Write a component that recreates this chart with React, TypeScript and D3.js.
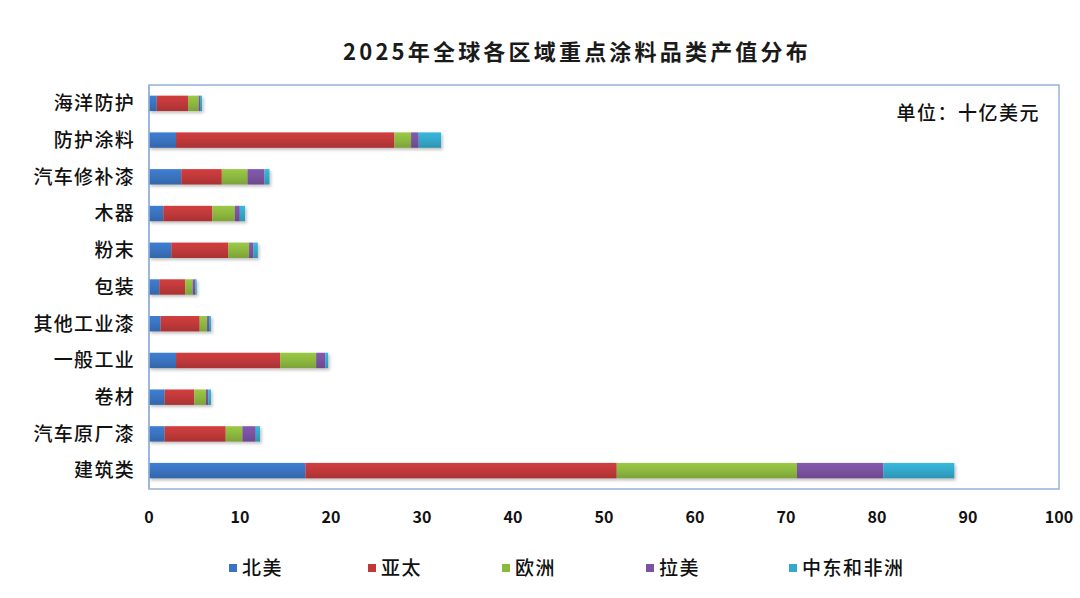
import React from "react";
import * as d3 from "d3";

const categories = ["海洋防护", "防护涂料", "汽车修补漆", "木器", "粉末", "包装", "其他工业漆", "一般工业", "卷材", "汽车原厂漆", "建筑类"];
const seriesNames = ["北美", "亚太", "欧洲", "拉美", "中东和非洲"];
const northAmerica = [0.85, 2.97, 3.55, 1.57, 2.45, 1.13, 1.28, 2.97, 1.72, 1.72, 17.2];
const asiaPacific = [3.44, 24.0, 4.45, 5.39, 6.24, 2.86, 4.29, 11.44, 3.26, 6.71, 34.2];
const europe = [1.17, 1.83, 2.82, 2.47, 2.31, 0.81, 0.81, 3.96, 1.28, 1.83, 19.8];
const latinAmerica = [0.15, 0.84, 1.87, 0.55, 0.48, 0.29, 0.22, 1.02, 0.26, 1.47, 9.5];
const meAfrica = [0.22, 2.46, 0.55, 0.58, 0.48, 0.15, 0.22, 0.3, 0.29, 0.48, 7.8];
const xTicks = [0, 10, 20, 30, 40, 50, 60, 70, 80, 90, 100];
const colors = ["#3A73C0", "#C0393A", "#8DB83F", "#7A52A0", "#33A8CA"];

const W = 1080, H = 598;
const left = 149, right = 1059, top = 85, bottom = 489;
const FONT = "'Noto Sans CJK SC', 'Noto Sans', sans-serif";

export default function App() {
  const allSeries = [northAmerica, asiaPacific, europe, latinAmerica, meAfrica];
  const rows = categories.map((c, i) => {
    const r: any = { cat: c };
    seriesNames.forEach((s, j) => (r[s] = allSeries[j][i]));
    return r;
  });
  const stacked = d3.stack<any>().keys(seriesNames)(rows);
  const x = d3.scaleLinear().domain([0, 100]).range([left, right]);
  const y = d3.scaleBand<string>().domain(categories).range([top, bottom]).paddingInner(0.58).paddingOuter(0.29);
  const legendX = [229, 368, 502, 646, 789];

  return (
    <svg width={W} height={H} style={{ position: "absolute", left: 0, top: 0, background: "#fff" }}>
      <defs>
        {colors.map((c, i) => (
          <linearGradient key={i} id={`g${i}`} x1="0" y1="0" x2="0" y2="1">
            <stop offset="0" stopColor={d3.color(c)!.brighter(0.25).toString()} />
            <stop offset="0.5" stopColor={c} />
            <stop offset="1" stopColor={d3.color(c)!.darker(0.35).toString()} />
          </linearGradient>
        ))}
        <filter id="sh" x="-5%" y="-30%" width="110%" height="180%">
          <feDropShadow dx="1.5" dy="2" stdDeviation="1.5" floodColor="#000" floodOpacity="0.25" />
        </filter>
      </defs>
      <text x={577} y={60} textAnchor="middle" fontFamily={FONT} fontWeight="bold" fontSize={22} letterSpacing={3.2} fill="#1a1a1a">
        2025年全球各区域重点涂料品类产值分布
      </text>
      <rect x={left} y={top} width={right - left} height={bottom - top} fill="#fff" stroke="#95B3D7" strokeWidth={1.5} />
      <text x={1040} y={120} textAnchor="end" fontFamily={FONT} fontSize={19} fontWeight={500} letterSpacing={1.5} fill="#111">
        单位：十亿美元
      </text>
      <g filter="url(#sh)">
        {stacked.map((s, si) =>
          s.map((d, di) => (
            <rect
              key={`${si}-${di}`}
              x={x(d[0])}
              y={y(categories[di])!}
              width={Math.max(0, x(d[1]) - x(d[0]))}
              height={y.bandwidth()}
              fill={`url(#g${si})`}
            />
          ))
        )}
      </g>
      <line x1={left} x2={left} y1={top} y2={bottom} stroke="#95B3D7" strokeWidth={1.5} />
      {categories.map((c) => (
        <text key={c} x={135} y={y(c)! + y.bandwidth() / 2} dy="0.36em" textAnchor="end" fontFamily={FONT} fontSize={19} fontWeight={500} letterSpacing={1.3} fill="#111">
          {c}
        </text>
      ))}
      {xTicks.map((t) => (
        <text key={t} x={x(t)} y={523} textAnchor="middle" fontFamily={FONT} fontSize={16} fontWeight="bold" fill="#111">
          {t}
        </text>
      ))}
      {seriesNames.map((s, i) => (
        <g key={s}>
          <rect x={legendX[i]} y={564} width={8} height={8} fill={colors[i]} />
          <text x={legendX[i] + 13} y={568} dy="0.36em" fontFamily={FONT} fontSize={19} fontWeight={500} letterSpacing={1.5} fill="#111">
            {s}
          </text>
        </g>
      ))}
    </svg>
  );
}
